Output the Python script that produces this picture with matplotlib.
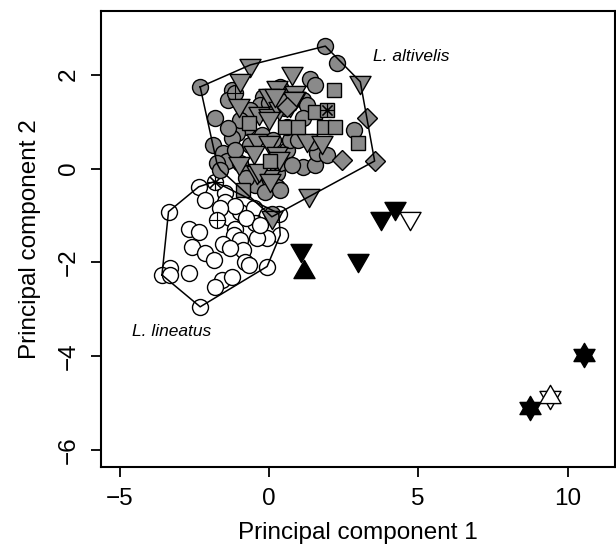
import numpy as np
import matplotlib
matplotlib.use('Agg')
import matplotlib.pyplot as plt
from matplotlib.path import Path

plt.rcParams['font.family'] = ['Liberation Sans', 'DejaVu Sans']

# L. lineatus (open circles)
lin_x = [-3.36, -2.35, -2.13, -1.46, -1.46, -1.29, -0.96, -0.51, -0.06, 0.33,
         0.38, -0.06, -0.40, -0.46, -1.12, -1.18, -0.96, -0.85, -1.52, -1.29,
         -2.69, -2.35, -2.57, -2.13, -1.85, -0.79, -0.68, -0.06, -3.30, -3.58,
         -3.30, -2.69, -1.57, -1.24, -1.79, -2.30, -1.12, -0.75, -0.30, -1.65]
lin_y = [-0.92, -0.39, -0.67, -0.53, -0.71, -1.06, -0.92, -0.85, -0.99, -0.96,
         -1.42, -1.49, -1.49, -1.17, -1.28, -1.42, -1.52, -1.74, -1.60, -1.70,
         -1.28, -1.35, -1.67, -1.81, -1.95, -1.99, -2.06, -2.09, -2.13, -2.27,
         -2.27, -2.23, -2.38, -2.31, -2.52, -2.95, -0.80, -1.05, -1.20, -0.85]
# marked lineatus: circled asterisk, circled plus
lin_ast = (-1.82, -0.28)
lin_plus = (-1.74, -1.10)

# L. altivelis, gray circles
circ_x = [-2.30, 1.89, 2.28, 1.39, 1.55, -1.24, -1.36, -1.79, -0.19, -0.29,
          0.38, 1.15, 1.27, -0.73, -1.07, -1.24, -1.86, -1.53, -1.40, -0.96,
          -0.73, -0.29, 0.05, 0.27, 0.38, 0.61, 0.72, 0.61, 1.15, 1.55,
          1.61, 2.84, -1.74, 0.10, 0.27, 0.00, -0.62, 0.55, -0.96, -1.36,
          -0.22, 0.99, -0.62, 0.15, -1.12, 0.79, -0.46, -0.12, 0.38, -0.75,
          -1.62, 1.15, 1.46, 0.72, 1.96]
circ_y = [1.74, 2.61, 2.24, 1.90, 1.78, 1.67, 1.46, 1.08, 1.53, 1.35,
          1.74, 1.46, 1.35, 0.89, 0.76, 0.65, 0.50, 0.33, 0.15, 0.12,
          -0.10, -0.17, -0.28, -0.10, 0.12, 0.39, 0.61, 0.89, 0.04, 0.07,
          0.32, 0.82, 0.11, -0.98, -0.39, 1.39, 1.25, 1.29, 1.03, 0.86,
          0.71, 0.61, 0.50, 0.61, 0.39, 0.07, -0.35, -0.50, -0.46, -0.20,
          -0.03, 1.08, 0.56, 1.57, 0.29]
circ_plus = (-1.12, 1.60)

# gray down triangles
tri_x = [-0.62, 0.77, -0.96, 0.27, -0.01, 0.88, 0.88, -1.01, 0.72, -0.34,
         -0.01, 0.33, 3.06, -0.40, -0.01, 1.27, 1.78, -0.51, -1.01, 0.27,
         -0.40, -0.01, 1.33, -0.01, 0.38, 0.83, -0.34, 0.05, 0.33, 0.21, 0.10]
tri_y = [2.21, 2.03, 1.89, 1.74, 1.57, 1.64, 1.50, 1.35, 1.35, 1.18,
         1.14, 1.28, 1.85, 0.61, 0.57, 0.61, 0.57, 0.36, 0.11, 0.32,
         -0.07, -0.17, -0.57, 1.07, 1.46, 1.50, -0.03, -0.25, 0.22, 1.57, -1.03]

# gray squares
sq_x = [2.17, 1.55, -0.68, 0.55, 0.99, 1.83, 2.22, 3.00, 0.05, -0.85]
sq_y = [1.67, 1.21, 0.96, 0.89, 0.89, 0.89, 0.89, 0.54, 0.15, -0.46]
sq_ast = (1.94, 1.25)

# gray diamonds
dia_x = [3.28, 2.45, 3.54, 0.61]
dia_y = [1.07, 0.18, 0.16, 1.32]

# outlying specimens
blk_down_x = [1.07, 2.97, 3.76, 4.21]
blk_down_y = [-1.74, -1.95, -1.06, -0.85]
blk_up_x = [1.16]
blk_up_y = [-2.20]
open_down_x = [4.73]
open_down_y = [-1.06]
star_x = [10.54, 8.75]
star_y = [-3.98, -5.11]
open_star_x = [9.40]
open_star_y = [-4.87]

gray = '#8a8a8a'

# equilateral triangles like R pch 24/25
h = np.sqrt(3) / 2
tri_up = Path([(-1, -h * 2 / 3), (1, -h * 2 / 3), (0, h * 4 / 3), (-1, -h * 2 / 3)],
              [Path.MOVETO, Path.LINETO, Path.LINETO, Path.CLOSEPOLY])
tri_dn = Path([(-1, h * 2 / 3), (1, h * 2 / 3), (0, -h * 4 / 3), (-1, h * 2 / 3)],
              [Path.MOVETO, Path.LINETO, Path.LINETO, Path.CLOSEPOLY])


def hull(xs, ys):
    pts = sorted(set(zip(xs, ys)))

    def cross(o, a, b):
        return (a[0] - o[0]) * (b[1] - o[1]) - (a[1] - o[1]) * (b[0] - o[0])
    lower, upper = [], []
    for p in pts:
        while len(lower) >= 2 and cross(lower[-2], lower[-1], p) <= 0:
            lower.pop()
        lower.append(p)
    for p in reversed(pts):
        while len(upper) >= 2 and cross(upper[-2], upper[-1], p) <= 0:
            upper.pop()
        upper.append(p)
    hp = lower[:-1] + upper[:-1]
    hp.append(hp[0])
    return [p[0] for p in hp], [p[1] for p in hp]


fig = plt.figure(figsize=(6.16, 5.52), dpi=100)
ax = fig.add_axes([0.1635, 0.1545, 0.8355, 0.8248])

ms_c = 11.5
ms_t = 17.5
ew = 1.0

ax.plot(lin_x, lin_y, 'o', ms=ms_c, mfc='white', mec='black', mew=ew, ls='none')
ax.plot(*lin_ast, 'o', ms=ms_c, mfc='white', mec='black', mew=ew)
ax.plot(*lin_ast, marker=(8, 2, 0), ms=ms_c * 0.9, mec='black', mew=0.8)
ax.plot(*lin_plus, 'o', ms=ms_c, mfc='white', mec='black', mew=ew)
ax.plot(*lin_plus, '+', ms=ms_c, mec='black', mew=0.8)

ax.plot(circ_x, circ_y, 'o', ms=ms_c, mfc=gray, mec='black', mew=ew, ls='none')
ax.plot(*circ_plus, 'o', ms=ms_c, mfc=gray, mec='black', mew=ew)
ax.plot(*circ_plus, '+', ms=ms_c, mec='black', mew=0.8)
ax.plot(tri_x, tri_y, marker=tri_dn, ms=ms_t, mfc=gray, mec='black', mew=ew, ls='none')
ax.plot(sq_x, sq_y, 's', ms=10, mfc=gray, mec='black', mew=ew, ls='none')
ax.plot(*sq_ast, 's', ms=10, mfc=gray, mec='black', mew=ew)
ax.plot(*sq_ast, marker=(8, 2, 0), ms=10, mec='black', mew=0.8)
ax.plot(dia_x, dia_y, 'D', ms=10.5, mfc=gray, mec='black', mew=ew, ls='none')

ax.plot(blk_down_x, blk_down_y, marker=tri_dn, ms=ms_t, mfc='black', mec='black', mew=ew, ls='none')
ax.plot(blk_up_x, blk_up_y, marker=tri_up, ms=ms_t, mfc='black', mec='black', mew=ew, ls='none')
ax.plot(open_down_x, open_down_y, marker=tri_dn, ms=ms_t, mfc='white', mec='black', mew=ew, ls='none')
for mk in (tri_dn, tri_up):
    ax.plot(star_x, star_y, marker=mk, ms=ms_t, mfc='black', mec='black', mew=ew, ls='none')
    ax.plot(open_star_x, open_star_y, marker=mk, ms=ms_t, mfc='white', mec='black', mew=ew, ls='none')

# convex hulls
alt_x = circ_x + tri_x + sq_x + dia_x
alt_y = circ_y + tri_y + sq_y + dia_y
hx, hy = hull(alt_x, alt_y)
ax.plot(hx, hy, '-', color='black', lw=1.1, zorder=5)
hx, hy = hull(lin_x + [lin_ast[0], lin_plus[0]], lin_y + [lin_ast[1], lin_plus[1]])
ax.plot(hx, hy, '-', color='black', lw=1.1, zorder=5)

ax.text(3.5, 2.38, 'L. altivelis', style='italic', fontsize=12.5, va='center', ha='left')
ax.text(-4.58, -3.48, 'L. lineatus', style='italic', fontsize=12.5, va='center', ha='left')

ax.set_xlim(-5.63, 11.6)
ax.set_ylim(-6.36, 3.35)
ax.set_xticks([-5, 0, 5, 10])
ax.set_yticks([-6, -4, -2, 0, 2])
ax.tick_params(direction='out', length=7, width=1.3, labelsize=17.5, pad=8)
for lab in ax.get_yticklabels():
    lab.set_rotation(90)
    lab.set_va('center')
for sp in ax.spines.values():
    sp.set_linewidth(1.5)
ax.set_xlabel('Principal component 1', fontsize=17.5, labelpad=9)
ax.set_ylabel('Principal component 2', fontsize=17.5, labelpad=12)

fig.savefig('out.png', dpi=100)
